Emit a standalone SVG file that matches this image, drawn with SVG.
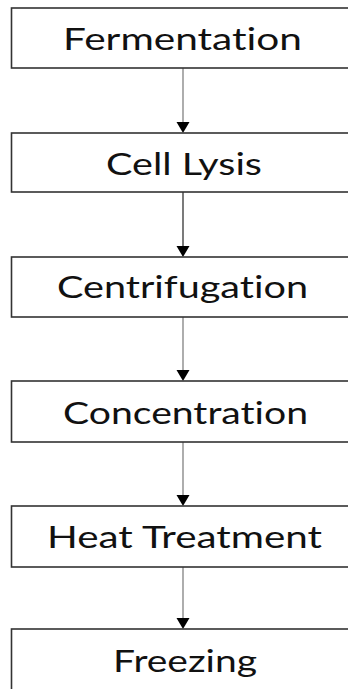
<svg xmlns="http://www.w3.org/2000/svg" width="348" height="689" viewBox="0 0 348 689">
<style>
.box{fill:#fff;stroke:#333;stroke-width:1.6}
.lbl{font-family:Lato,"Open Sans","Liberation Sans",sans-serif;font-size:30px;fill:#111;text-anchor:middle;font-variant-ligatures:none;font-feature-settings:"liga" 0}
.ln{stroke:#777;stroke-width:1.2}
.hd{fill:#000}
</style>
<rect width="348" height="689" fill="#fff"/>
<g id="connectors">
<line class="ln" x1="183" y1="68" x2="183" y2="123"/><polygon class="hd" points="176.5,122 189.5,122 183,133"/>
<line class="ln" x1="183" y1="192" x2="183" y2="247" style="stroke:#222"/><polygon class="hd" points="176.5,246 189.5,246 183,257"/>
<line class="ln" x1="183" y1="317" x2="183" y2="371"/><polygon class="hd" points="176.5,370 189.5,370 183,381"/>
<line class="ln" x1="183" y1="442" x2="183" y2="496"/><polygon class="hd" points="176.5,495 189.5,495 183,506"/>
<line class="ln" x1="183" y1="567" x2="183" y2="619"/><polygon class="hd" points="176.5,618 189.5,618 183,629"/>
</g>
<g id="n1"><rect class="box" x="11.5" y="8" width="360" height="60"/><text class="lbl" x="182.5" y="50" textLength="239" lengthAdjust="spacingAndGlyphs">Fermentation</text></g>
<g id="n2"><rect class="box" x="11.5" y="133" width="360" height="59"/><text class="lbl" x="184" y="175" textLength="156" lengthAdjust="spacingAndGlyphs">Cell Lysis</text></g>
<g id="n3"><rect class="box" x="11.5" y="257" width="360" height="60"/><text class="lbl" x="182.5" y="298" textLength="251" lengthAdjust="spacingAndGlyphs">Centrifugation</text></g>
<g id="n4"><rect class="box" x="11.5" y="381" width="360" height="61"/><text class="lbl" x="185.5" y="424" textLength="245" lengthAdjust="spacingAndGlyphs">Concentration</text></g>
<g id="n5"><rect class="box" x="11.5" y="506" width="360" height="61"/><text class="lbl" x="184.5" y="548" textLength="275" lengthAdjust="spacingAndGlyphs">Heat Treatment</text></g>
<g id="n6"><rect class="box" x="11.5" y="629" width="360" height="70"/><text class="lbl" x="185" y="672" textLength="144" lengthAdjust="spacingAndGlyphs">Freezing</text></g>
</svg>
